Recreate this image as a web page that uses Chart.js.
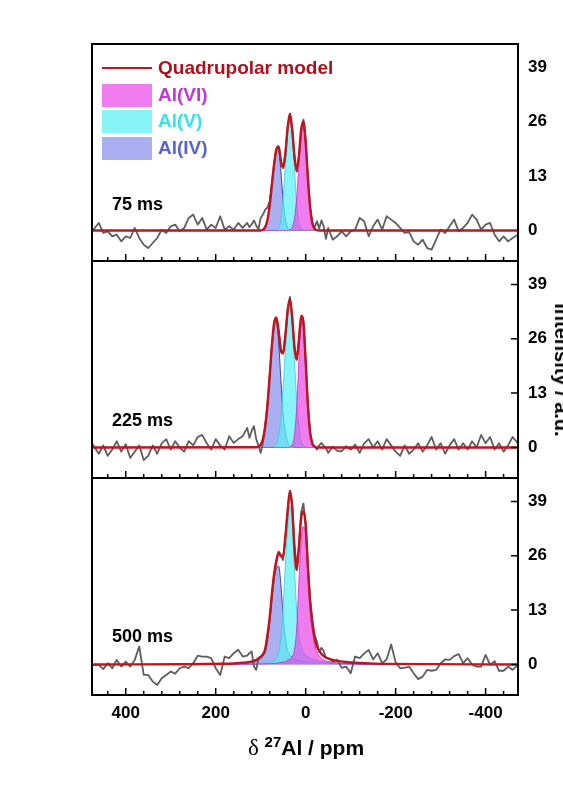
<!DOCTYPE html>
<html>
<head>
<meta charset="utf-8">
<title>27Al NMR quadrupolar fits</title>
<script src="https://cdn.jsdelivr.net/npm/chart.js@4.4.1/dist/chart.umd.min.js"></script>
<style>
  body { margin: 0; background: #fff; }
  #wrap { position: relative; width: 563px; height: 791px; overflow: hidden; background: #fff;
          font-family: "Liberation Sans", Arial, sans-serif; }
  .panel { position: absolute; left: 0; }
  #xtitle { position: absolute; left: 0; width: 612px; top: 737px; text-align: center;
            font-weight: bold; font-size: 21px; line-height: 21px; white-space: nowrap; }
  #xtitle .delta { font-family: "Liberation Serif", "DejaVu Serif", serif; font-weight: normal; font-size: 23px; }
  #xtitle sup { font-size: 15px; vertical-align: 8px; line-height: 0; }
  #ytitle { position: absolute; left: 562px; top: 370px; transform: translate(-50%, -50%) rotate(90deg);
            font-weight: bold; font-size: 20px; line-height: 20px; white-space: nowrap; }
</style>
</head>
<body>
<div id="wrap">
  <canvas id="p75" class="panel" width="563" height="261" style="top:0px"></canvas>
  <canvas id="p225" class="panel" width="563" height="217" style="top:261px"></canvas>
  <canvas id="p500" class="panel" width="563" height="313" style="top:478px"></canvas>
  <div id="xtitle"><span class="delta">&delta;</span> <sup>27</sup>Al / ppm</div>
  <div id="ytitle">Intensity / a.u.</div>
</div>
<script>
// ---- data (ppm / a.u.) ----
const xTicks = [400, 200, 0, -200, -400];
const yTicks = [0, 13, 26, 39];
const panelLabels = ['75 ms', '225 ms', '500 ms'];
const legendLabels = ['Quadrupolar model', 'Al(VI)', 'Al(V)', 'Al(IV)'];

// experimental spectra, shared shift grid
const expX = [475,460,450,440,430,420,410,400,390,380,370,360,350,340,330,320,310,300,290,280,270,260,250,240,230,220,210,200,190,180,170,160,150,140,130,
  125,120,115,110,105,100,95,90,85,80,75,70,65,60,55,50,45,40,35,30,25,20,15,10,5,0,-5,-10,-15,-20,-25,-30,-35,-40,-45,
  -50,-60,-70,-80,-90,-100,-110,-120,-130,-140,-150,-160,-170,-180,-190,-200,-210,-220,-230,-240,-250,-260,-270,-280,-290,
  -300,-310,-320,-330,-340,-350,-360,-370,-380,-390,-400,-410,-420,-430,-440,-450,-460,-472];

const exp75 = [-0.2,1.8,-0.6,-0.2,-1.4,-1.0,-2.6,-1.4,-1.8,0.6,-1.8,-3.4,-4.2,-3.0,-1.8,0.2,-0.6,1.0,1.4,-0.2,0.6,3.0,3.8,1.4,3.0,0.2,1.4,0.6,3.4,0.2,1.0,0.2,1.8,0.6,1.8,
  0.8,1.5,2.4,1.2,0.3,3.0,3.8,5.0,5.5,7.0,11.5,16.0,19.5,20.0,16.5,15.0,18.5,24.5,27.8,24.0,17.5,14.0,17.5,24.0,26.5,21.5,12.5,5.5,1.5,0.8,2.2,0.5,2.4,1.0,-2.0,
  0.6,-2.2,-1.4,-0.2,-1.4,-0.2,0.2,3.0,2.2,-1.4,1.0,2.6,0.2,3.4,2.6,1.8,0.6,-0.6,-0.4,-2.6,-3.4,-2.2,-4.2,-4.6,-2.2,
  0.2,-0.6,1.0,2.6,-0.2,0.6,1.8,3.8,2.6,0.2,1.4,1.8,-1.0,-2.6,-1.4,-2.6,-1.8,-1.0];

const exp225 = [1.0,-1.5,0.5,-2.0,-0.5,1.5,-1.0,0.8,-2.5,-1.0,0.5,-3.0,-2.0,0.5,-1.5,1.0,2.0,-0.5,1.5,0.0,-1.0,1.5,0.5,2.5,3.0,1.0,-0.5,2.0,0.5,-0.5,2.7,1.1,2.0,2.7,4.7,
  2.3,4.0,5.1,2.0,0.5,-1.3,1.1,5.5,10.5,17.0,24.5,29.7,30.5,27.5,23.5,22.5,27.0,33.0,36.0,31.0,24.0,21.0,25.5,31.0,30.0,20.5,10.0,3.5,0.7,0.3,-0.5,0.5,1.1,0.4,-0.1,
  -1.3,0.2,-0.8,-0.9,0.3,-0.5,0.7,-1.3,1.0,2.0,0.0,1.5,-0.5,2.0,0.5,-1.0,-2.0,0.5,-1.5,-0.5,1.0,-1.0,0.5,2.5,-0.5,
  1.0,-1.5,0.5,2.0,-0.5,1.0,-0.5,1.5,0.0,3.0,1.0,2.5,-0.5,1.0,-1.0,0.5,2.5,1.0];

const exp500 = [-0.1,-0.1,-1.1,0.3,-0.9,1.1,-0.5,0.7,-0.5,1.1,4.3,-2.5,-2.5,-4.1,-4.9,-3.3,-2.5,-1.7,-2.2,-0.9,-0.5,-0.9,0.3,2.1,1.9,1.9,1.5,-0.9,-2.5,1.9,1.5,2.7,3.5,1.9,2.1,
  2.7,3.1,-0.5,-1.3,1.5,1.9,2.3,3.0,6.0,10.5,16.5,21.5,24.5,27.0,26.0,25.0,30.5,37.0,41.5,38.5,28.5,23.5,28.5,36.5,38.5,33.5,23.0,15.5,10.5,7.0,5.5,3.0,4.0,3.2,1.5,
  1.5,0.7,1.1,-0.8,-0.5,-2.1,1.9,1.5,2.6,3.5,1.2,2.7,0.3,1.2,4.8,0.5,-0.9,-0.8,-0.5,-2.1,-3.5,-2.9,-1.3,-1.5,-1.3,
  0.3,1.2,1.1,2.0,2.5,0.3,1.5,0.0,-0.5,-0.5,2.3,-0.1,0.8,-1.5,-1.5,-0.5,-1.3,-0.1];

// fitted components, 75 ms
const fitX75 = [100,95,90,85,80,75,70,65,60,55,50,45,40,35,30,25,20,15,10,5,0,-5,-10,-15,-20,-25,-30];
const al4_75 = [0,0.2,0.8,2.5,6.0,11.0,16.0,19.5,19.6,14.0,7.0,2.5,0.7,0.15,0,0,0,0,0,0,0,0,0,0,0,0,0];
const al5_75 = [0,0,0,0,0,0,0,0,0.5,2.5,8.0,16.0,24.0,27.6,23.5,15.0,6.5,2.0,0.5,0.1,0,0,0,0,0,0,0];
const al6_75 = [0,0,0,0,0,0,0,0,0,0,0,0,0,0.15,0.75,2.8,7.8,15.9,23.7,26.0,21.0,12.4,5.4,1.7,0.4,0.1,0];

// fitted components, 225 ms
const fitX225 = [110,105,100,95,90,85,80,75,70,65,60,55,50,45,40,35,30,25,20,15,10,5,0,-5,-10,-15,-20,-25,-30];
const al4_225 = [0.05,0.2,0.7,2.0,4.9,9.9,17.0,24.5,29.7,30.2,25.0,16.0,8.0,3.5,1.3,0.4,0.1,0,0,0,0,0,0,0,0,0,0,0,0];
const al5_225 = [0,0,0,0,0,0,0,0,0.2,0.9,2.8,7.0,14.5,23.5,31.5,35.0,30.5,21.0,11.5,4.8,1.5,0.4,0.1,0,0,0,0,0,0];
const al6_225 = [0,0,0,0,0,0,0,0,0,0,0,0,0,0,0,0.1,0.6,3.0,9.5,21.0,30.0,29.5,20.5,10.0,3.5,0.9,0.2,0,0];

// fitted components, 500 ms
const fitX500 = [180,160,140,125,115,105,95,90,85,80,75,70,65,60,55,50,45,40,35,30,25,20,15,10,5,0,-5,-10,-15,-20,-25,-30,-40,-50,-60,-75,-90,-110,-140,-180];
const al4_500 = [0.1,0.15,0.25,0.4,0.6,1.1,2.0,3.2,6.5,10.5,16,20.5,23,23.5,19,11.5,6,3.3,2.2,1.6,1.3,1.1,0.95,0.85,0.75,0.65,0.58,0.52,0.47,0.42,0.38,0.35,0.3,0.25,0.22,0.18,0.14,0.1,0.07,0.04];
const al5_500 = [0.05,0.07,0.1,0.13,0.17,0.22,0.3,0.35,0.4,0.5,0.7,1.0,1.6,3.0,6.5,14,24,32.5,38,34,23,13,7,4.2,2.9,2.2,1.8,1.5,1.25,1.05,0.9,0.8,0.6,0.48,0.4,0.3,0.22,0.15,0.1,0.06];
const al6_500 = [0.02,0.03,0.05,0.07,0.09,0.11,0.14,0.16,0.18,0.2,0.23,0.27,0.32,0.38,0.45,0.55,0.7,1.0,1.3,2.0,3.5,8.5,20,30,33,30.5,21,12.8,8,4.8,3.0,2.1,1.1,0.7,0.5,0.32,0.22,0.15,0.1,0.05];

// ---- styling ----
const FONT = '"Liberation Sans", Arial, sans-serif';
const X_MIN = -472, X_MAX = 475;
const Y_MIN = -7.3, Y_MAX = 44.6;
const RED = '#c0141e';
const GREY = '#5e5e5e';
const BLUE_FILL = 'rgba(100, 110, 230, 0.55)';
const CYAN_FILL = 'rgba(90, 240, 245, 0.72)';
const MAG_FILL = 'rgba(232, 64, 232, 0.68)';

function toPoints(xs, ys) {
  return xs.map((x, i) => ({ x: x, y: ys[i] }));
}

// quadrupolar model = sum of the three sites, flat zero outside
function modelPoints(xs, a, b, c) {
  const pts = [{ x: X_MAX, y: 0 }];
  xs.forEach((x, i) => pts.push({ x: x, y: a[i] + b[i] + c[i] }));
  pts.push({ x: X_MIN, y: 0 });
  return pts;
}

function drawLegend(ctx) {
  ctx.font = 'bold 19px ' + FONT;
  ctx.textBaseline = 'middle';
  ctx.textAlign = 'left';
  ctx.strokeStyle = RED;
  ctx.lineWidth = 2;
  ctx.beginPath();
  ctx.moveTo(102, 68);
  ctx.lineTo(152, 68);
  ctx.stroke();
  ctx.fillStyle = '#b0101a';
  ctx.fillText(legendLabels[0], 158, 69);

  const rows = [[84, MAG_FILL, '#c238d6'], [110, CYAN_FILL, '#36e2ec'], [137, BLUE_FILL, '#5a62d2']];
  rows.forEach((r, i) => {
    ctx.fillStyle = r[1];
    ctx.fillRect(102, r[0], 50, 23);
    ctx.fillStyle = r[2];
    ctx.fillText(legendLabels[i + 1], 158, r[0] + 12);
  });
}

// frame, inward ticks, panel label
const panelDecor = {
  id: 'panelDecor',
  afterDatasetsDraw(chart, args, opts) {
    const ctx = chart.ctx;
    const a = chart.chartArea;
    const x = chart.scales.x, y = chart.scales.y;
    ctx.save();
    ctx.strokeStyle = '#000';
    ctx.lineWidth = 1.5;
    ctx.beginPath();
    for (let v = -440; v <= 440; v += 40) {
      const px = x.getPixelForValue(v);
      const len = v % 200 === 0 ? 7 : 4;
      ctx.moveTo(px, a.bottom);
      ctx.lineTo(px, a.bottom - len);
    }
    if (opts.yTickMarks) {
      yTicks.forEach(v => {
        const py = y.getPixelForValue(v);
        ctx.moveTo(a.right, py);
        ctx.lineTo(a.right - 7, py);
      });
    }
    ctx.stroke();
    ctx.lineWidth = 2;
    ctx.strokeRect(a.left, a.top, a.right - a.left, a.bottom - a.top);

    ctx.fillStyle = '#000';
    ctx.font = 'bold 18px ' + FONT;
    ctx.textBaseline = 'middle';
    ctx.fillText(opts.label, 112, opts.labelY);

    if (opts.legend) drawLegend(ctx);
    ctx.restore();
  }
};

function makePanel(id, cfg) {
  const ctx = document.getElementById(id);
  const tickFont = { family: FONT, size: 17, weight: 'bold' };

  return new Chart(ctx, {
    type: 'line',
    data: {
      datasets: [
        { data: modelPoints(cfg.fitX, cfg.al4, cfg.al5, cfg.al6), borderColor: RED, borderWidth: 2.4,
          borderJoinStyle: 'round', cubicInterpolationMode: 'monotone', order: 0 },
        { data: toPoints(expX, cfg.exp), borderColor: GREY, borderWidth: 1.8, borderJoinStyle: 'round',
          tension: 0, order: 1 },
        { data: toPoints(cfg.fitX, cfg.al6), borderColor: 'rgba(190, 50, 190, 0.8)', borderWidth: 1,
          borderJoinStyle: 'round', backgroundColor: MAG_FILL, fill: 'origin', cubicInterpolationMode: 'monotone', order: 2 },
        { data: toPoints(cfg.fitX, cfg.al5), borderColor: 'rgba(60, 200, 215, 0.8)', borderWidth: 1,
          borderJoinStyle: 'round', backgroundColor: CYAN_FILL, fill: 'origin', cubicInterpolationMode: 'monotone', order: 3 },
        { data: toPoints(cfg.fitX, cfg.al4), borderColor: 'rgba(50, 50, 160, 0.9)', borderWidth: 1,
          borderJoinStyle: 'round', backgroundColor: BLUE_FILL, fill: 'origin', cubicInterpolationMode: 'monotone', order: 4 }
      ]
    },
    options: {
      responsive: false,
      animation: false,
      devicePixelRatio: 1,
      layout: { padding: { top: cfg.padTop, left: 92, right: 0, bottom: 0 } },
      elements: { point: { radius: 0 } },
      plugins: {
        legend: { display: false },
        tooltip: { enabled: false },
        panelDecor: { label: cfg.label, labelY: cfg.labelY, legend: cfg.legend, yTickMarks: cfg.yTickMarks }
      },
      scales: {
        x: {
          type: 'linear',
          reverse: true,
          min: X_MIN,
          max: X_MAX,
          display: cfg.showX,
          afterBuildTicks: s => { s.ticks = xTicks.map(v => ({ value: v })); },
          afterFit: s => {
            s.height = cfg.showX ? 96 : 0;
            s.paddingLeft = 0;
            s.paddingRight = 0;
          },
          grid: { display: false, drawTicks: false },
          border: { display: false },
          ticks: { font: tickFont, color: '#000', padding: 8, maxRotation: 0, autoSkip: false,
                   callback: v => String(v) }
        },
        y: {
          position: 'right',
          min: Y_MIN,
          max: Y_MAX,
          afterBuildTicks: s => { s.ticks = yTicks.map(v => ({ value: v })); },
          afterFit: s => {
            s.width = 45;
            s.paddingTop = 0;
            s.paddingBottom = 0;
          },
          grid: { display: false, drawTicks: false },
          border: { display: false },
          ticks: { font: tickFont, color: '#000', padding: 10, autoSkip: false }
        }
      }
    },
    plugins: [panelDecor]
  });
}

makePanel('p75', { exp: exp75, fitX: fitX75, al4: al4_75, al5: al5_75, al6: al6_75,
  padTop: 44, showX: false, label: panelLabels[0], labelY: 205, legend: true, yTickMarks: false });
makePanel('p225', { exp: exp225, fitX: fitX225, al4: al4_225, al5: al5_225, al6: al6_225,
  padTop: 0, showX: false, label: panelLabels[1], labelY: 160, legend: false, yTickMarks: true });
makePanel('p500', { exp: exp500, fitX: fitX500, al4: al4_500, al5: al5_500, al6: al6_500,
  padTop: 0, showX: true, label: panelLabels[2], labelY: 159, legend: false, yTickMarks: true });
</script>
</body>
</html>
